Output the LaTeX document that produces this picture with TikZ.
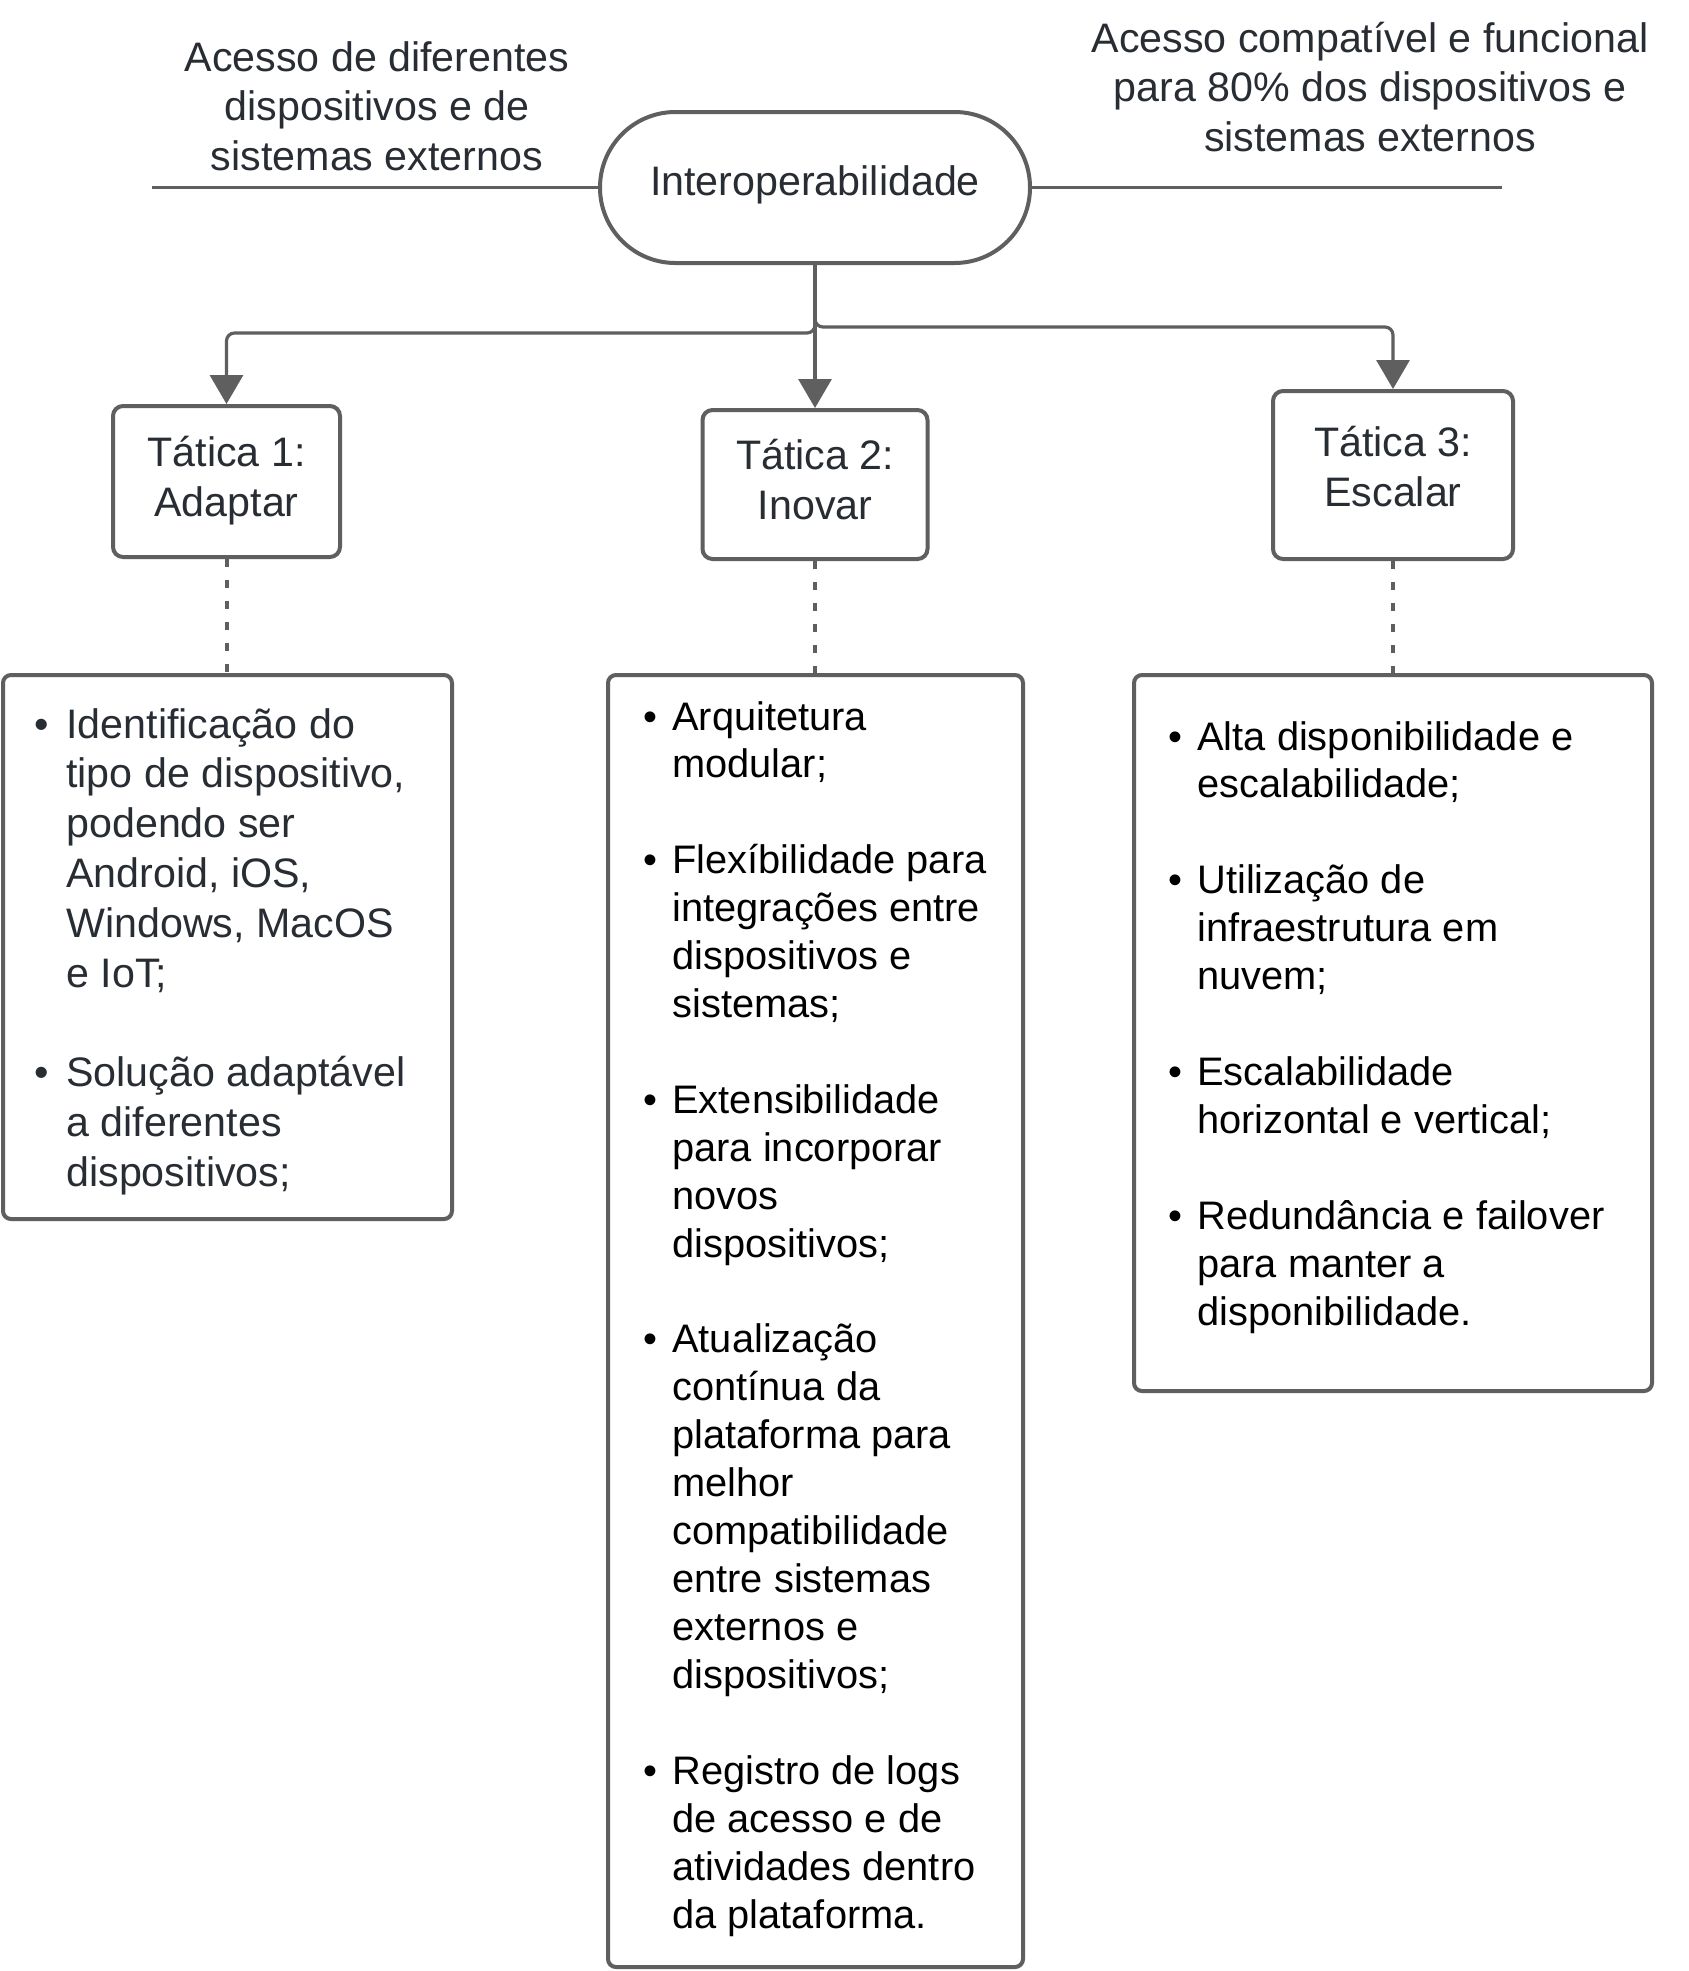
\documentclass[tikz,border=0pt]{standalone}
\usepackage{fontspec}
\setmainfont{Liberation Sans}
\usetikzlibrary{arrows.meta}
\definecolor{strk}{HTML}{5F5F5F}
\definecolor{ink}{HTML}{282C33}
\newcommand{\fa}{\fontsize{20.6pt}{24.9pt}\selectfont}
\newcommand{\fb}{\fontsize{19.9pt}{23.96pt}\selectfont}
\newcommand{\bulA}{\llap{•\hspace{8.9pt}}}
\newcommand{\bulB}{\llap{•\hspace{7.5pt}}}
\newcommand{\colC}[1]{\begin{tabular}{@{}c@{}}#1\end{tabular}}
\newcommand{\colTC}[1]{\begin{tabular}[t]{@{}c@{}}#1\end{tabular}}
\newcommand{\colTL}[1]{\begin{tabular}[t]{@{}l@{}}#1\end{tabular}}
\newcommand{\lift}[2]{\raisebox{#1}[\height][\depth]{#2}}
\begin{document}
\begin{tikzpicture}[x=0.5pt,y=-0.5pt,
  box/.style={draw=strk, line width=2pt, rounded corners=5pt, inner sep=0pt},
  term/.style={draw=strk, line width=2pt, rounded corners=37.7pt, inner sep=0pt,
    minimum width=215pt, minimum height=75.5pt, text=ink, font=\fa},
  tact/.style={box, text=ink, font=\fa},
  detail/.style={box, rounded corners=4pt},
  conn/.style={draw=strk, line width=1.6pt, rounded corners=4pt,
    -{Triangle[width=16.5pt,length=14.5pt]}},
  dots/.style={draw=strk, line width=2pt, dash pattern=on 4pt off 6.5pt},
  side/.style={draw=strk, line width=1.3pt},
  txtA/.style={inner sep=0pt, text=ink, font=\fa},
  txtB/.style={inner sep=0pt, text=black, font=\fb}]
\fill[white] (0,0) rectangle (1689,1971);
\useasboundingbox (0,0) rectangle (1689,1971);

% central terminator
\node[term] (term) at (815,187.5) {\lift{1.3pt}{Interoperabilidade}};

% side notes
\node[txtA, anchor=base] (hl) at (377,71) {\colTC{Acesso de diferentes\\dispositivos e de\\sistemas externos}};
\node[txtA, anchor=base] (hr) at (1370,52) {\colTC{Acesso compatível e funcional\\para 80\% dos dispositivos e\\sistemas externos}};
\coordinate (sl) at (152,187.5);
\coordinate (sr) at (1502,187.5);
\draw[side] (sl) -- (term.west);
\draw[side] (term.east) -- (sr);

% tactics
\node[tact, minimum width=113.5pt, minimum height=75.5pt] (t1) at (226.5,481.5) {\colC{Tática 1:\\Adaptar}};
\node[tact, minimum width=112.5pt, minimum height=74.5pt] (t2) at (815,484.5) {\colC{Tática 2:\\Inovar}};
\node[tact, minimum width=120pt, minimum height=84pt] (t3) at (1393,475) {\lift{1.8pt}{\colC{Tática 3:\\Escalar}}};

% connectors
\coordinate (jl) at (0,333);
\coordinate (jr) at (0,327);
\draw[conn] (term.south) |- (t1.north |- jl) -- (t1.north);
\draw[conn] (term.south) |- (t3.north |- jr) -- (t3.north);
\draw[conn] (term.south) -- (t2.north);

% detail boxes
\node[detail, minimum width=224.5pt, minimum height=272pt] (bA) at (227.5,947) {};
\node[detail, minimum width=207.5pt, minimum height=646pt] (bB) at (815.5,1321) {};
\node[detail, minimum width=259pt, minimum height=358pt] (bC) at (1393,1033) {};

\draw[dots] (t1.south) -- (t1.south |- bA.north);
\draw[dots] (t2.south) -- (t2.south |- bB.north);
\draw[dots] (t3.south) -- (t3.south |- bC.north);

\node[txtA, anchor=base west] (xA) at (66,738) {\colTL{\bulA Identificação do\\tipo de dispositivo,\\podendo ser\\Android, iOS,\\Windows, MacOS\\e IoT;\\ \\\bulA Solução adaptável\\a diferentes\\dispositivos;}};

\node[txtB, anchor=base west] (xB) at (672,730) {\colTL{\bulB Arquitetura\\modular;\\ \\\bulB Flexíbilidade para\\integrações entre\\dispositivos e\\sistemas;\\ \\\bulB Extensibilidade\\para incorporar\\novos\\dispositivos;\\ \\\bulB Atualização\\contínua da\\plataforma para\\melhor\\compatibilidade\\entre sistemas\\externos e\\dispositivos;\\ \\\bulB Registro de logs\\de acesso e de\\atividades dentro\\da plataforma.}};

\node[txtB, anchor=base west] (xC) at (1197,750) {\colTL{\bulB Alta disponibilidade e\\escalabilidade;\\ \\\bulB Utilização de\\infraestrutura em\\nuvem;\\ \\\bulB Escalabilidade\\horizontal e vertical;\\ \\\bulB Redundância e failover\\para manter a\\disponibilidade.}};
\end{tikzpicture}
\end{document}
